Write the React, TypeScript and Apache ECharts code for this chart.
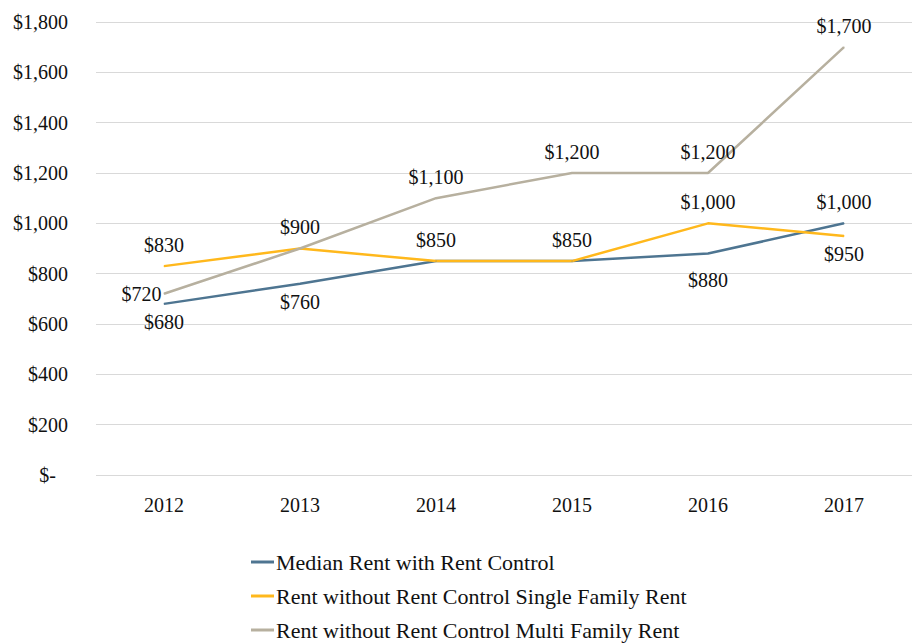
import React, { useEffect, useRef } from "react";
import * as echarts from "echarts";

const years = ["2012", "2013", "2014", "2015", "2016", "2017"];
const medianRent = [680, 760, 850, 850, 880, 1000];
const singleFamily = [830, 900, 850, 850, 1000, 950];
const multiFamily = [720, 900, 1100, 1200, 1200, 1700];

const seriesNames = [
  "Median Rent with Rent Control",
  "Rent without Rent Control Single Family Rent",
  "Rent without Rent Control Multi Family Rent",
];
const colors = ["#4e7591", "#ffb81c", "#b7b09f"];

// label placement per point: "t" top, "b" bottom, "l" left, "" hidden
const medianPos = ["b", "b", "t", "t", "b", "t"];
const singlePos = ["t", "t", "", "", "t", "b"];
const multiPos = ["l", "", "t", "t", "t", "t"];

const FONT = "'Liberation Serif', 'DejaVu Serif', serif";
const fmt = (v: number) => "$" + v.toLocaleString("en-US");

function buildData(values: number[], pos: string[]) {
  return values.map((v, i) => {
    const p = pos[i];
    if (!p) return { value: v, label: { show: false } };
    if (p === "t") return { value: v, label: { show: true, position: "top", distance: 11 } };
    if (p === "b") return { value: v, label: { show: true, position: "bottom", distance: i === 4 ? 16 : 8 } };
    return { value: v, label: { show: true, position: "left", distance: 2, offset: [0, -7] } };
  });
}

export default function App() {
  const ref = useRef<HTMLDivElement>(null);
  useEffect(() => {
    if (!ref.current) return;
    const chart = echarts.init(ref.current, null, { renderer: "svg" });
    const mk = (name: string, values: number[], pos: string[], color: string) => ({
      name,
      type: "line",
      data: buildData(values, pos),
      symbol: "circle",
      symbolSize: 1,
      showSymbol: true,
      lineStyle: { color, width: 2.5 },
      itemStyle: { color },
      label: {
        show: true,
        formatter: (p: any) => fmt(p.value),
        fontFamily: FONT,
        fontSize: 20,
        color: "#111",
      },
      labelLayout: { hideOverlap: false },
    });
    chart.setOption({
      animation: false,
      color: colors,
      grid: { left: 96, right: -12, top: 22, bottom: 168, containLabel: false },
      xAxis: {
        type: "category",
        data: years,
        boundaryGap: true,
        axisLine: { show: false },
        axisTick: { show: false },
        axisLabel: { fontFamily: FONT, fontSize: 20, color: "#111", margin: 20 },
      },
      yAxis: {
        type: "value",
        min: 0,
        max: 1800,
        interval: 200,
        axisLine: { show: false },
        axisTick: { show: false },
        splitLine: { lineStyle: { color: "#d9d9d9", width: 1 } },
        axisLabel: {
          margin: 28,
          fontFamily: FONT,
          fontSize: 20,
          color: "#111",
          formatter: (v: number) => (v === 0 ? "{z|$-}" : fmt(v)),
          rich: { z: { fontFamily: FONT, fontSize: 20, color: "#111", padding: [0, 12, 0, 0] } },
        },
      },
      legend: {
        orient: "vertical",
        left: 246,
        top: 546,
        height: 200,
        icon: "rect",
        itemWidth: 23,
        itemHeight: 3,
        itemGap: 12,
        textStyle: { fontFamily: FONT, fontSize: 22, color: "#111", padding: [0, 0, 0, -3] },
        data: seriesNames,
      },
      series: [
        mk(seriesNames[0], medianRent, medianPos, colors[0]),
        mk(seriesNames[1], singleFamily, singlePos, colors[1]),
        mk(seriesNames[2], multiFamily, multiPos, colors[2]),
      ],
    });
    return () => chart.dispose();
  }, []);
  return (
    <div
      ref={ref}
      style={{ position: "absolute", left: 0, top: 0, width: 912, height: 643 }}
    />
  );
}
